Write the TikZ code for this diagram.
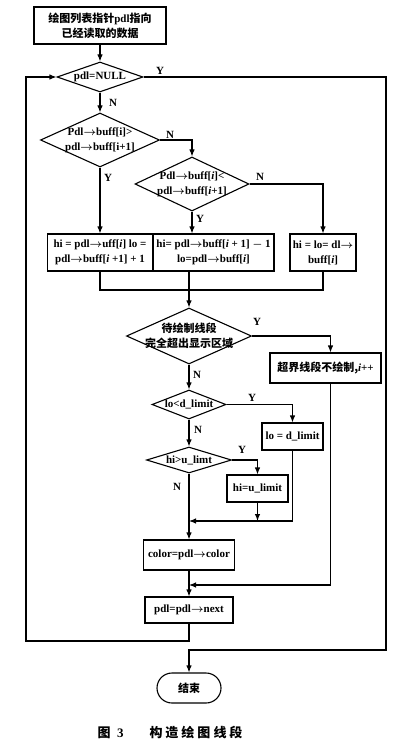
\documentclass[tikz,border=0pt]{standalone}
\usepackage{fontspec}
\setmainfont{Liberation Serif}
\newfontfamily\cjk{Noto Sans CJK SC}
\usetikzlibrary{shapes.geometric}
\usetikzlibrary{arrows.meta}
\tikzset{txt/.style={align=center, inner sep=0pt, font=\fontsize{11}{15}\selectfont\bfseries\boldmath},
	box/.style={draw, rectangle, txt},
	dec/.style={draw, diamond, inner sep=0pt, label={[txt]center:{#1}}},
	arr/.style={-{Latex[length=7pt,width=5.5pt]}},
	lbl/.style={font=\fontsize{11}{13}\selectfont\bfseries}}
\begin{document}
\begin{tikzpicture}[x=1pt, y=-1pt, line width=1.1pt]
			\useasboundingbox (0,0) rectangle (400,746);
			\node[box, minimum width=132, minimum height=37] (start) at (100,25.5) {{\cjk 绘图列表指针}pdl{\cjk 指向}\\{\cjk 已经读取的数据}};
			\node[dec={pdl=NULL}, minimum width=86, minimum height=30] (d1) at (100,77) {};
			\node[dec={Pdl$\to$buff[i]>\\pdl$\to$buff[i+1]}, minimum width=119, minimum height=54] (d2) at (100,140) {};
			\node[dec={Pdl$\to$buff[\textit{i}]<\\pdl$\to$buff[\textit{i}+1]}, minimum width=114, minimum height=54] (d3) at (192,184) {};
			\node[box, minimum width=105, minimum height=37] (b1) at (100,252.5) {hi = pdl$\to$uff[\textit{i}] lo =\\pdl$\to$buff[\textit{i} +1] + 1};
			\node[box, minimum width=121, minimum height=37] (b2) at (213.5,252.5) {hi= pdl$\to$buff[\textit{i} + 1] $-$ 1\\lo=pdl$\to$buff[\textit{i}]};
			\node[box, minimum width=66, minimum height=37] (b3) at (323,252.5) {hi = lo= dl$\to$\\buff[\textit{i}]};
			\node[dec={{\cjk 待绘制线段}\\{\cjk 完全超出显示区域}}, minimum width=125, minimum height=56] (d4) at (189,336) {};
			\node[box, minimum width=111, minimum height=30] (b4) at (325.5,368) {{\cjk 超界线段不绘制,}\textit{i}++};
			\node[dec={lo<d\_limit}, minimum width=74, minimum height=29] (d5) at (189,404.5) {};
			\node[box, minimum width=61, minimum height=27] (b5) at (292.5,436.5) {lo = d\_limit};
			\node[dec={hi>u\_limt}, minimum width=85, minimum height=26] (d6) at (189,460) {};
			\node[box, minimum width=61, minimum height=27] (b6) at (257.5,488.5) {hi=u\_limit};
			\node[box, minimum width=91, minimum height=30] (b7) at (189,555) {color=pdl$\to$color};
			\node[box, minimum width=88, minimum height=26] (b8) at (189,610) {pdl=pdl$\to$next};
			\node[box, rounded corners=15, minimum width=64, minimum height=30] (stop) at (189,688) {{\cjk 结束}};
			\node[font=\fontsize{13}{15}\selectfont\bfseries] (cap) at (170,732) {{\cjk 图}\ \ 3\qquad{\cjk 构\hspace{3pt}造\hspace{3pt}绘\hspace{3pt}图\hspace{3pt}线\hspace{3pt}段}};
			%
			\coordinate (rt) at (386,650);
			\coordinate (lf) at (26,641);
			\coordinate (m1) at (189,290);
			\coordinate (m2) at (189,521);
			\coordinate (m3) at (189,585);
			\draw[arr] (start) -- (d1);
			\draw[arr] (d1.east) -| (rt) -| (stop.north);
			\draw[arr] (d1) -- (d2);
			\draw[arr] (d2.east) -| (d3.north);
			\draw[arr] (d2.south) -- (b1.north);
			\draw[arr] (d3.south) -- (d3.south |- b2.north);
			\draw[arr] (d3.east) -| (b3.north);
			\draw (b1.south) |- (b3.south |- m1) -- (b3.south);
			\draw[arr] (b2.south -| m1) -- (d4.north);
			\draw[arr] (d4.east) -| ([xshift=5]b4.north);
			\draw[arr] ([xshift=5]b4.south) |- (m3);
			\draw[arr] (d4) -- (d5);
			\draw[arr] (d5.east) -| (b5.north);
			\draw[arr] (d5) -- (d6);
			\draw[arr] (d6.east) -| (b6.north);
			\draw[arr] (d6) -- (b7);
			\draw[arr] (b6.south) -- (b6.south |- m2);
			\draw[arr] (b5.south) |- (m2);
			\draw[arr] (b7) -- (b8);
			\draw[arr] (b8.south) |- (lf) |- (d1.west);
			\foreach \p/\t [count=\k] in {{160,71}/Y,{113,103}/N,{170,135}/N,{108,178}/Y,{260,177}/N,{200,219}/Y,{257,322}/Y,{197,375}/N,{252,398}/Y,{198,430}/N,{242,450}/Y,{177,487}/N}
				\node[lbl] (yn\k) at (\p) {\t};
		\end{tikzpicture}
\end{document}
